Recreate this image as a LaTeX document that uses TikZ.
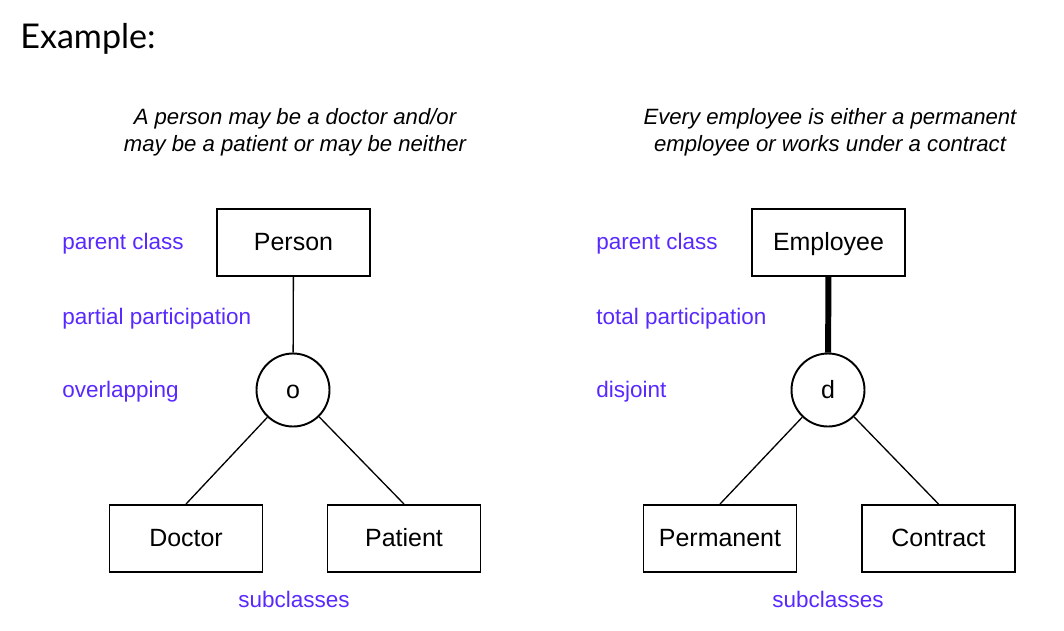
\documentclass[tikz,border=0pt]{standalone}
\usepackage{fontspec}
\setmainfont{Liberation Sans}
\newfontfamily\latofont{Lato}
\usepackage{tikz}
\usetikzlibrary{positioning}
\definecolor{lblblue}{RGB}{88,40,255}

\begin{document}
\begin{tikzpicture}[
  font=\fontsize{14.2}{17}\selectfont,
  cls/.style={draw,line width=1.1pt,minimum width=3.06cm,minimum height=1.34cm,inner sep=1pt,text height=1.8ex,text depth=0ex},
  spec/.style={draw,circle,line width=1.1pt,minimum size=1.46cm,inner sep=0pt,text height=1.8ex,text depth=0ex},
  lbl/.style={lblblue,anchor=west,inner sep=0pt,font=\fontsize{12.8}{15}\selectfont},
  note/.style={align=center,font=\fontsize{12.6}{15.4}\selectfont\itshape},
  thin/.style={line width=0.75pt},
  thick line/.style={line width=3.4pt},
]
\useasboundingbox (0,0) rectangle (21.28,12.6);
\node[anchor=base west,inner sep=0pt,font=\latofont\fontsize{19.4}{23}\selectfont] (title) at (0.4,11.64) {Example:};

% ---- left: overlapping, partial ----
\node[note] (capl) at (5.9,9.96) {A person may be a doctor and/or\\may be a patient or may be neither};
\node[cls] (person) at (5.87,7.75) {Person};
\node[spec] (ovl) at (5.86,4.8) {o};
\node[cls] (doctor) at (3.72,1.83) {Doctor};
\node[cls] (patient) at (8.08,1.83) {Patient};
\draw[thin] (person) -- (ovl);
\draw[thin] (ovl) -- (doctor.north);
\draw[thin] (ovl) -- (patient.north);
\node[lbl] (pcl) at (1.24,7.72) {parent class};
\node[lbl] (ppl) at (1.24,6.22) {partial participation};
\node[lbl] (ovll) at (1.24,4.76) {overlapping};
\node[lbl,anchor=center] (subl) at (5.88,0.62) {subclasses};

% ---- right: disjoint, total ----
\node[note] (capr) at (16.6,9.96) {Every employee is either a permanent\\employee or works under a contract};
\node[cls] (employee) at (16.57,7.75) {Employee};
\node[spec] (dis) at (16.56,4.8) {d};
\node[cls] (perm) at (14.4,1.83) {Permanent};
\node[cls] (contract) at (18.77,1.83) {Contract};
\draw[thick line] (employee) -- (dis);
\draw[thin] (dis) -- (perm.north);
\draw[thin] (dis) -- (contract.north);
\node[lbl] (pcr) at (11.92,7.72) {parent class};
\node[lbl] (tpr) at (11.92,6.22) {total participation};
\node[lbl] (disr) at (11.92,4.76) {disjoint};
\node[lbl,anchor=center] (subr) at (16.56,0.62) {subclasses};
\end{tikzpicture}
\end{document}
